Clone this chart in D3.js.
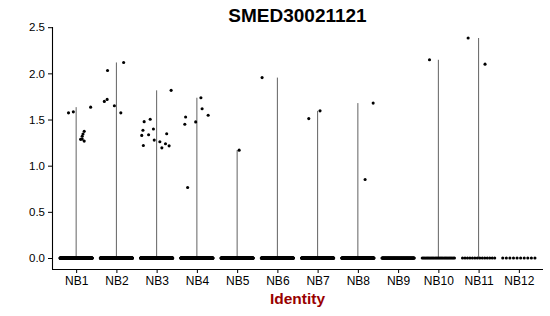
<!DOCTYPE html>
<html>
<head>
<meta charset="utf-8">
<script src="https://cdn.jsdelivr.net/npm/d3@7"></script>
<style>
  body { margin: 0; background: #fff; }
  svg { display: block; font-family: "Liberation Sans", Arial, sans-serif; }
</style>
</head>
<body>
<div id="chart"></div>
<script>
// Skupine (identitete)
const clusters = ["NB1", "NB2", "NB3", "NB4", "NB5", "NB6", "NB7", "NB8", "NB9", "NB10", "NB11", "NB12"];

// Število celic z izražanjem 0 v vsaki skupini
const zeroCounts = [300, 300, 300, 300, 260, 220, 220, 220, 110, 26, 14, 10];

// Neničelne vrednosti izražanja po skupinah
const expressed = [
  [1.572, 1.583, 1.634, 1.372, 1.343, 1.318, 1.285, 1.288, 1.266],
  [1.696, 1.718, 2.031, 1.649, 1.572, 2.118],
  [1.816, 1.477, 1.503, 1.383, 1.328, 1.335, 1.397, 1.346, 1.277, 1.259, 1.193, 1.237, 1.215, 1.219],
  [1.528, 1.449, 1.474, 1.736, 1.616, 1.547, 0.764],
  [1.168],
  [1.954],
  [1.510, 1.594],
  [1.678, 0.851],
  [],
  [2.147],
  [2.383, 2.100],
  []
];

// Jitter (v enotah kategorije) za neničelne točke, odčitan s slike
const expressedJitter = [
  [-0.19, -0.07, 0.36, 0.20, 0.17, 0.15, 0.11, 0.15, 0.20],
  [-0.30, -0.23, -0.22, -0.05, 0.11, 0.18],
  [0.36, -0.31, -0.16, -0.34, -0.37, -0.20, -0.08, 0.25, -0.06, 0.08, 0.13, 0.22, 0.31, -0.33],
  [-0.28, -0.30, -0.03, 0.10, 0.13, 0.28, -0.23],
  [0.05],
  [-0.38],
  [-0.22, 0.06],
  [0.38, 0.18],
  [],
  [-0.22],
  [-0.26, 0.16],
  []
];

const yTicks = [0, 0.5, 1.0, 1.5, 2.0, 2.5];
const title = "SMED30021121";
const xTitle = "Identity";

const width = 550;
const height = 316;
const marginLeft = 52;
const marginRight = 7;
const marginTop = 27;
const marginBottom = 47;

const x = d3.scalePoint()
  .domain(clusters)
  .range([marginLeft, width - marginRight])
  .padding(0.6);

const step = x.step();

const maxVal = d3.max(expressed.flat());
const ext = maxVal * 0.05;
const y = d3.scaleLinear()
  .domain([-ext, maxVal + ext])
  .range([height - marginBottom, marginTop]);

const svg = d3.create("svg")
  .attr("width", width)
  .attr("height", height)
  .attr("viewBox", [0, 0, width, height]);

// Violine (zaradi večine ničel so videti kot navpične črte)
svg.append("g")
  .attr("stroke", "#3a3a3a")
  .attr("stroke-width", 0.8)
  .selectAll("line")
  .data(clusters.map((c, i) => ({ c, max: d3.max(expressed[i]) || 0 })).filter(d => d.max > 0))
  .join("line")
  .attr("x1", d => x(d.c))
  .attr("x2", d => x(d.c))
  .attr("y1", y(0))
  .attr("y2", d => y(d.max));

// Točke: ničle enakomerno razporejene po širini jitterja
const points = [];
clusters.forEach((c, i) => {
  const n = zeroCounts[i];
  for (let k = 0; k < n; k++) {
    const j = n > 1 ? -0.4 + 0.8 * k / (n - 1) : 0;
    points.push({ c, v: 0, j });
  }
  expressed[i].forEach((v, k) => points.push({ c, v, j: expressedJitter[i][k] }));
});

svg.append("g")
  .attr("fill", "#000")
  .selectAll("circle")
  .data(points)
  .join("circle")
  .attr("cx", d => x(d.c) + d.j * step)
  .attr("cy", d => y(d.v))
  .attr("r", 1.55);

// Osi
const gx = svg.append("g")
  .attr("transform", `translate(0,${height - marginBottom})`)
  .call(d3.axisBottom(x).tickSize(4).tickPadding(3).tickSizeOuter(0));
gx.select(".domain")
  .attr("d", `M${marginLeft},0.5H${width - marginRight}`)
  .attr("stroke-width", 1.1);
gx.selectAll("text").attr("font-size", 12).attr("fill", "#000")
  .attr("font-family", "Liberation Sans, Arial, sans-serif");

const gy = svg.append("g")
  .attr("transform", `translate(${marginLeft},0)`)
  .call(d3.axisLeft(y).tickValues(yTicks).tickFormat(d3.format(".1f")).tickSize(4).tickPadding(3).tickSizeOuter(0));
gy.select(".domain")
  .attr("d", `M0.5,${marginTop}V${height - marginBottom}`)
  .attr("stroke-width", 1.1);
gy.selectAll("text").attr("font-size", 11.5).attr("fill", "#000")
  .attr("font-family", "Liberation Sans, Arial, sans-serif");

// Naslovi
svg.append("text")
  .attr("x", (marginLeft + width - marginRight) / 2)
  .attr("y", 22)
  .attr("text-anchor", "middle")
  .attr("font-weight", "bold")
  .attr("font-size", 19)
  .text(title);

svg.append("text")
  .attr("x", (marginLeft + width - marginRight) / 2)
  .attr("y", 304)
  .attr("text-anchor", "middle")
  .attr("font-weight", "bold")
  .attr("font-size", 15.5)
  .attr("fill", "#990000")
  .text(xTitle);

document.getElementById("chart").appendChild(svg.node());
</script>
</body>
</html>
